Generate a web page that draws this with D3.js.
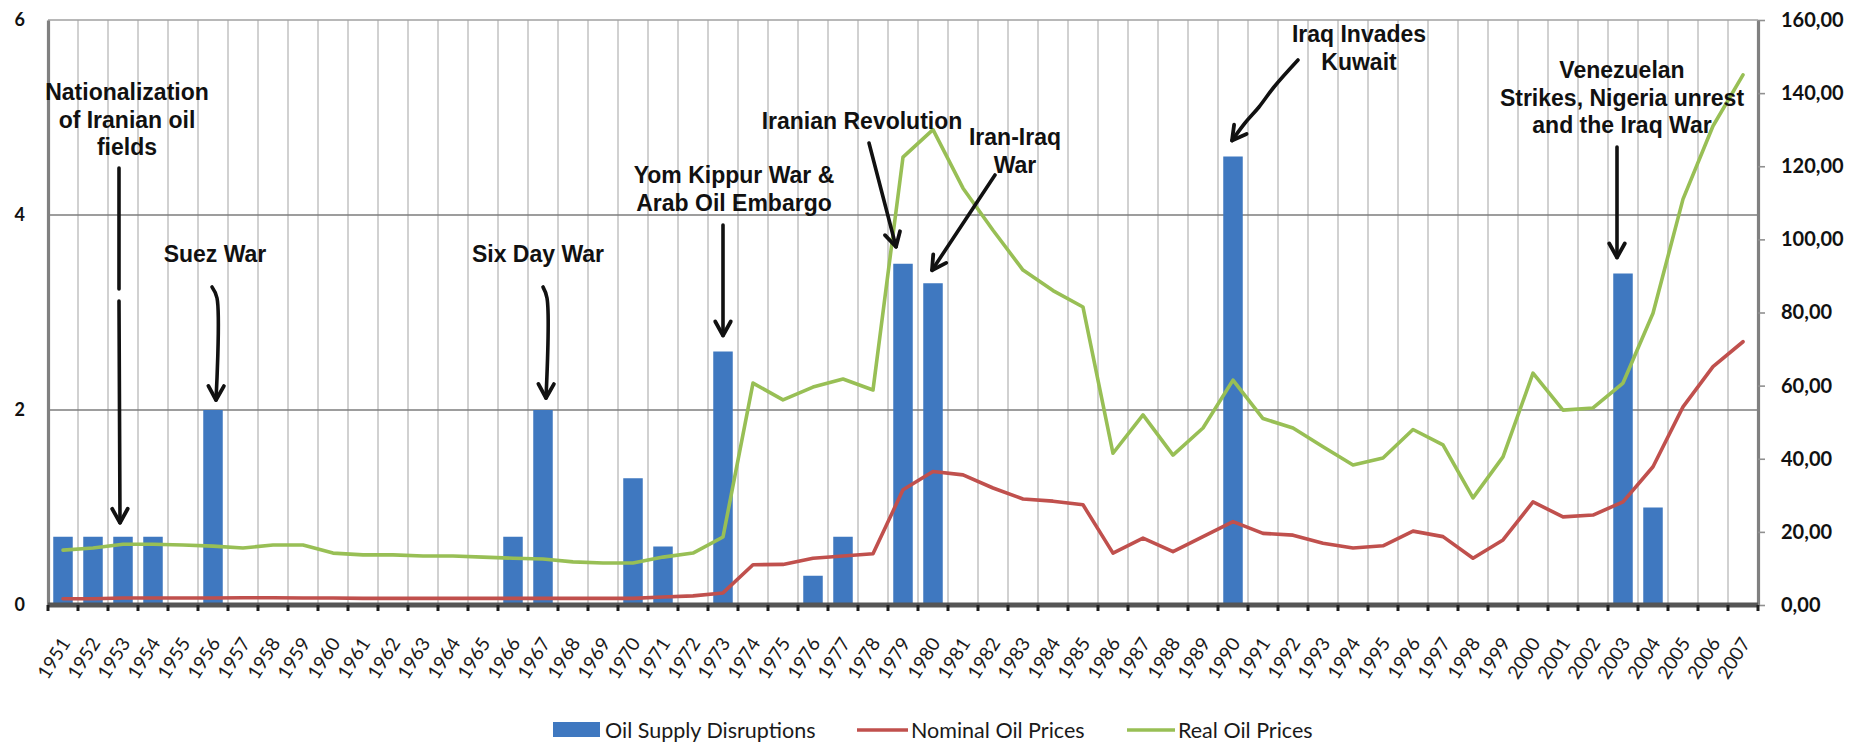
<!DOCTYPE html>
<html>
<head>
<meta charset="utf-8">
<script src="https://cdn.jsdelivr.net/npm/d3@7"></script>
<style>
  html, body { margin: 0; padding: 0; background: #fff; }
  svg { display: block; }
</style>
</head>
<body>
<svg id="chart" width="1866" height="744"></svg>
<script>
// ---- data ----
const years = [1951,1952,1953,1954,1955,1956,1957,1958,1959,1960,
  1961,1962,1963,1964,1965,1966,1967,1968,1969,1970,
  1971,1972,1973,1974,1975,1976,1977,1978,1979,1980,
  1981,1982,1983,1984,1985,1986,1987,1988,1989,1990,
  1991,1992,1993,1994,1995,1996,1997,1998,1999,2000,
  2001,2002,2003,2004,2005,2006,2007];

// supply disruptions (left axis)
const disruptionYears  = [1951,1952,1953,1954,1956,1966,1967,1970,1971,1973,1976,1977,1979,1980,1990,2003,2004];
const disruptionValues = [0.7, 0.7, 0.7, 0.7, 2.0, 0.7, 2.0, 1.3, 0.6, 2.6, 0.3, 0.7, 3.5, 3.3, 4.6, 3.4, 1.0];

// prices per barrel (right axis), one value per year
const nominalPrices = [1.7,1.7,1.9,1.9,1.9,1.9,2.0,2.0,1.9,1.9,
  1.8,1.8,1.8,1.8,1.8,1.8,1.8,1.8,1.8,1.8,
  2.2,2.5,3.3,11.0,11.1,12.8,13.4,14.0,31.5,36.5,
  35.6,32.0,29.0,28.4,27.4,14.2,18.3,14.6,18.7,22.8,
  19.6,19.1,16.9,15.6,16.2,20.2,18.7,12.8,17.8,28.2,
  24.1,24.6,28.2,37.8,54.2,65.2,72.0];
const realPrices = [15.0,15.6,16.6,16.6,16.4,16.1,15.6,16.4,16.4,14.2,
  13.7,13.7,13.4,13.4,13.1,12.8,12.6,11.8,11.5,11.5,
  13.1,14.2,18.6,60.7,56.1,59.6,61.8,58.8,122.5,130.0,
  114.0,102.5,91.6,86.0,81.5,41.5,52.0,41.0,48.4,61.5,
  51.0,48.4,43.3,38.3,40.2,48.0,43.8,29.3,40.5,63.4,
  53.3,53.9,60.7,79.8,111.0,131.0,145.0];

const leftTicks  = [0, 2, 4, 6];
const rightTicks = [0, 20, 40, 60, 80, 100, 120, 140, 160];
const seriesNames = ["Oil Supply Disruptions", "Nominal Oil Prices", "Real Oil Prices"];

// historical events, each pointing at a disruption bar
const eventYears = [1953, 1956, 1967, 1973, 1979, 1980, 1990, 2003];
const eventLabels = [
  ["Nationalization", "of Iranian oil", "fields"],
  ["Suez War"],
  ["Six Day War"],
  ["Yom Kippur War &", "Arab Oil Embargo"],
  ["Iranian Revolution"],
  ["Iran-Iraq", "War"],
  ["Iraq Invades", "Kuwait"],
  ["Venezuelan", "Strikes, Nigeria unrest", "and the Iraq War"]
];

// ---- layout ----
const X0 = 48, X1 = 1758, Y0 = 605, Y1 = 20;
const colors = { bar: "#3f78c0", nominal: "#c0504d", real: "#98bf55" };

// label placement and hand-drawn arrow routes (null = pen lifted)
const eventLayout = [
  { lx: 127,  ly: 100, route: [[119,168],[119,289],null,[119,301]], tip: [-3,-14] },
  { lx: 215,  ly: 262, route: [[212,287],[217,298]],               tip: [3,-10] },
  { lx: 538,  ly: 262, route: [[543,287],[547,298]],               tip: [3,-12] },
  { lx: 734,  ly: 183, route: [[723,225]],                         tip: [0,-16] },
  { lx: 862,  ly: 129, route: [[869,143]],                         tip: [-7,-17] },
  { lx: 1015, ly: 145, route: [[995,175]],                         tip: [-1,-13] },
  { lx: 1359, ly: 42,  route: [[1298,60],[1274,87],[1259,107],[1245,123]], tip: [-1,-16] },
  { lx: 1622, ly: 78,  route: [[1617,147]],                        tip: [-6,-16] }
];

const svg = d3.select("#chart");

const x  = d3.scaleBand().domain(years).range([X0, X1]);
const yL = d3.scaleLinear().domain([0, 6]).range([Y0, Y1]);
const yR = d3.scaleLinear().domain([0, 160]).range([Y0, Y1]);
const cx = yr => x(yr) + x.bandwidth() / 2;

// category boundaries
const bounds = years.map(yr => x(yr)).concat([X1]);

// vertical gridlines between categories
svg.append("g").selectAll("line").data(bounds.slice(1, -1)).join("line")
  .attr("x1", d => d).attr("x2", d => d)
  .attr("y1", Y1).attr("y2", Y0)
  .attr("stroke", "#c6c6c6").attr("stroke-width", 1.6);

// horizontal gridlines on the left scale
svg.append("g").selectAll("line").data(leftTicks.filter(t => t > 0)).join("line")
  .attr("x1", X0).attr("x2", X1)
  .attr("y1", d => yL(d)).attr("y2", d => yL(d))
  .attr("stroke", d => d === 6 ? "#a0a0a0" : "#7c7c7c")
  .attr("stroke-width", 1.6);

// disruption bars
const barW = x.bandwidth() * 0.65;
const bars = disruptionYears.map((yr, i) => ({ year: yr, value: disruptionValues[i] }));
svg.append("g").selectAll("rect").data(bars).join("rect")
  .attr("x", d => cx(d.year) - barW / 2)
  .attr("width", barW)
  .attr("y", d => yL(d.value))
  .attr("height", d => Y0 - yL(d.value))
  .attr("fill", colors.bar);

// price lines
const priceLine = d3.line().x((d, i) => cx(years[i])).y(d => yR(d));
svg.append("path").datum(nominalPrices)
  .attr("d", priceLine).attr("fill", "none")
  .attr("stroke", colors.nominal).attr("stroke-width", 3.6)
  .attr("stroke-linejoin", "round").attr("stroke-linecap", "round");
svg.append("path").datum(realPrices)
  .attr("d", priceLine).attr("fill", "none")
  .attr("stroke", colors.real).attr("stroke-width", 3.6)
  .attr("stroke-linejoin", "round").attr("stroke-linecap", "round");

// left axis
const gL = svg.append("g").attr("transform", `translate(${X0},0)`)
  .call(d3.axisLeft(yL).tickValues(leftTicks).tickFormat(d3.format("d"))
    .tickSize(0).tickPadding(23));
gL.select(".domain").attr("stroke", "#808080").attr("stroke-width", 3.2);
gL.selectAll("text")
  .attr("font-family", "Lato, 'Liberation Sans', sans-serif")
  .attr("font-weight", "700").attr("font-size", 18).attr("fill", "#111");

// right axis
const fmtR = d => d3.format(".2f")(d).replace(".", ",");
const gR = svg.append("g").attr("transform", `translate(${X1},0)`)
  .call(d3.axisRight(yR).tickValues(rightTicks).tickFormat(fmtR)
    .tickSize(7).tickSizeOuter(0).tickPadding(16));
gR.select(".domain").attr("stroke", "#808080").attr("stroke-width", 3.2);
gR.selectAll(".tick line").attr("stroke", "#909090").attr("stroke-width", 1.6);
gR.selectAll("text")
  .attr("font-family", "Lato, 'Liberation Sans', sans-serif")
  .attr("font-weight", "700").attr("font-size", 20).attr("fill", "#111");

// bottom axis: year labels
const gB = svg.append("g").attr("transform", `translate(0,${Y0})`)
  .call(d3.axisBottom(x).tickSize(0));
gB.select(".domain").remove();
gB.selectAll("text")
  .attr("y", 0).attr("dy", 0)
  .attr("text-anchor", "end")
  .attr("transform", "translate(8,38) rotate(-58)")
  .attr("font-family", "Lato, 'Liberation Sans', sans-serif")
  .attr("font-size", 19).attr("fill", "#1a1a1a");

// category axis line and boundary ticks
svg.append("line")
  .attr("x1", X0).attr("x2", X1).attr("y1", Y0).attr("y2", Y0)
  .attr("stroke", "#555").attr("stroke-width", 5);
svg.append("g").selectAll("line").data(bounds).join("line")
  .attr("x1", d => d).attr("x2", d => d)
  .attr("y1", Y0).attr("y2", Y0 + 6)
  .attr("stroke", "#1e1e1e").attr("stroke-width", 3);

// event annotations
const gE = svg.append("g");
const valueOf = yr => disruptionValues[disruptionYears.indexOf(yr)];
eventYears.forEach((yr, i) => {
  const lay = eventLayout[i];
  const t = gE.append("text")
    .attr("x", lay.lx).attr("y", lay.ly)
    .attr("text-anchor", "middle")
    .attr("font-family", "'Liberation Sans', Arial, sans-serif")
    .attr("font-weight", "700").attr("font-size", 23)
    .attr("fill", "#111");
  eventLabels[i].forEach((ln, k) => {
    t.append("tspan").attr("x", lay.lx).attr("dy", k === 0 ? 0 : 27.5).text(ln);
  });

  const tip = [cx(yr) + lay.tip[0], yL(valueOf(yr)) + lay.tip[1]];
  // split route into pen strokes
  const strokes = [[]];
  lay.route.forEach(p => { if (p === null) strokes.push([]); else strokes[strokes.length - 1].push(p); });
  strokes[strokes.length - 1].push(tip);
  const curve = d3.line().curve(d3.curveCatmullRom.alpha(0.5));
  strokes.forEach(s => {
    gE.append("path").attr("d", curve(s))
      .attr("fill", "none").attr("stroke", "#111")
      .attr("stroke-width", 3.6).attr("stroke-linecap", "round");
  });
  // chevron head
  const last = strokes[strokes.length - 1];
  const prev = last[last.length - 2];
  const ang = Math.atan2(tip[1] - prev[1], tip[0] - prev[0]);
  const L = 16, spread = Math.PI / 6.2;
  const a1 = [tip[0] - L * Math.cos(ang - spread), tip[1] - L * Math.sin(ang - spread)];
  const a2 = [tip[0] - L * Math.cos(ang + spread), tip[1] - L * Math.sin(ang + spread)];
  gE.append("path")
    .attr("d", `M${a1[0]},${a1[1]}L${tip[0]},${tip[1]}L${a2[0]},${a2[1]}`)
    .attr("fill", "none").attr("stroke", "#111")
    .attr("stroke-width", 3.8).attr("stroke-linejoin", "round").attr("stroke-linecap", "round");
});

// legend
const legend = svg.append("g").attr("transform", "translate(0,730)")
  .attr("font-family", "Lato, 'Liberation Sans', sans-serif").attr("font-size", 21.5).attr("fill", "#1a1a1a");
const legendX = [553, 857, 1127];
const legendTextX = [605, 911, 1178];
legend.append("rect").attr("x", legendX[0]).attr("y", -8).attr("width", 47).attr("height", 15).attr("fill", colors.bar);
legend.append("line").attr("x1", legendX[1]).attr("x2", legendX[1] + 51).attr("y1", 0).attr("y2", 0)
  .attr("stroke", colors.nominal).attr("stroke-width", 3.6);
legend.append("line").attr("x1", legendX[2]).attr("x2", legendX[2] + 48).attr("y1", 0).attr("y2", 0)
  .attr("stroke", colors.real).attr("stroke-width", 3.6);
seriesNames.forEach((nm, i) => {
  legend.append("text").attr("x", legendTextX[i]).attr("y", 7.5).text(nm);
});
</script>
</body>
</html>
